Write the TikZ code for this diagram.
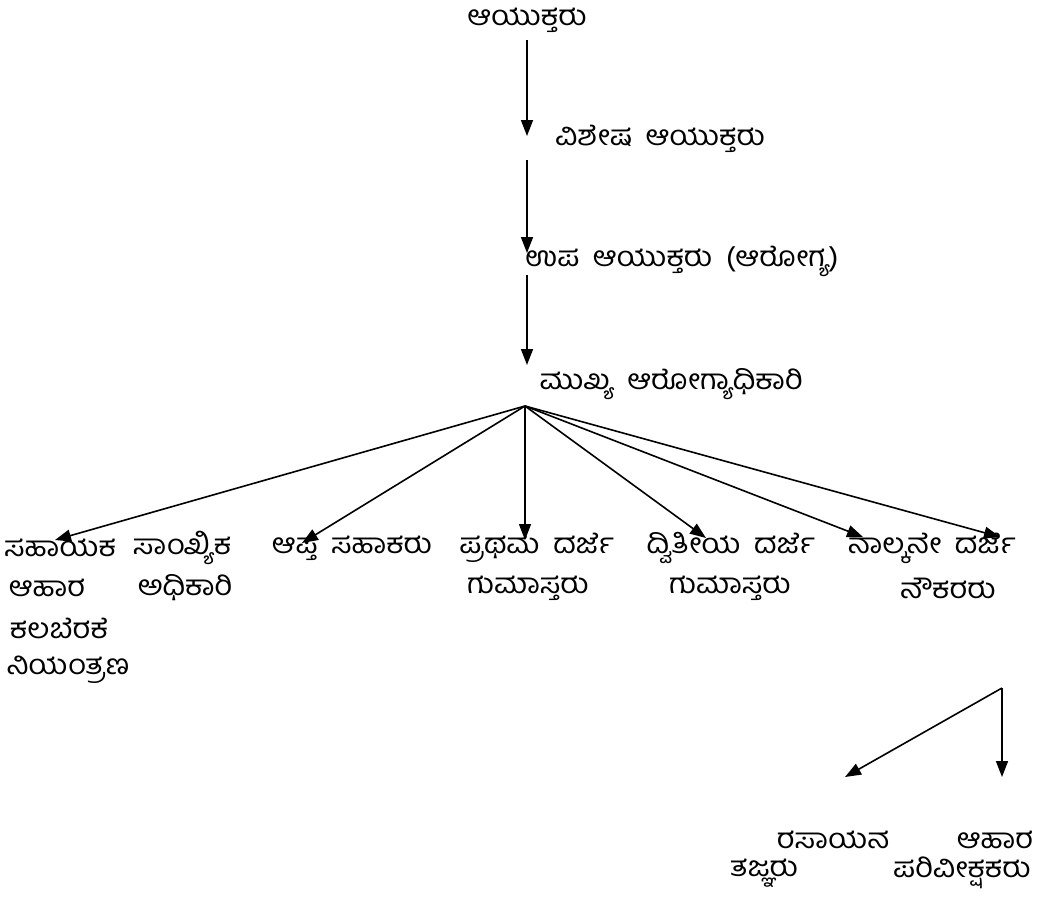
\documentclass[tikz,border=0pt]{standalone}
\usepackage{fontspec}
\usetikzlibrary{arrows.meta}
\newfontfamily\kanfont[Script=Kannada,FakeStretch=1.1,WordSpace=1.8]{Hind Mysuru}
\begin{document}
\begin{tikzpicture}[x=1pt,y=-1pt,
  lbl/.style={inner sep=0pt,font=\kanfont\fontsize{28}{32}\selectfont},
  arr/.style={line width=1.6pt,-{Triangle[length=16pt,width=12pt]}}]
\useasboundingbox (0,0) rectangle (1039,898);
% top chain
\node[lbl] (n1) at (527,20) {ಆಯುಕ್ತರು};
\node[lbl] (n2) at (660,139) {ವಿಶೇಷ ಆಯುಕ್ತರು};
\node[lbl] (n3) at (682,261) {ಉಪ ಆಯುಕ್ತರು (ಆರೋಗ್ಯ)};
\node[lbl] (n4) at (671,384) {ಮುಖ್ಯ ಆರೋಗ್ಯಾಧಿಕಾರಿ};
\coordinate (s1) at (527,40);  \coordinate (t1) at (527,136);
\coordinate (s2) at (527,160); \coordinate (t2) at (527,253);
\coordinate (s3) at (527,275); \coordinate (t3) at (527,365);
\draw[arr] (s1) -- (t1);
\draw[arr] (s2) -- (t2);
\draw[arr] (s3) -- (t3);
% hub
\coordinate (hub) at (525,406);
\coordinate (h1) at (55,540);
\coordinate (h2) at (302,543);
\coordinate (h3) at (525,540);
\coordinate (h4) at (706,538);
\coordinate (h5) at (863,537);
\coordinate (h6) at (1000,537);
\foreach \h in {h1,h2,h3,h4,h5,h6} \draw[arr] (hub) -- (\h);
% bottom rows
\node[lbl] (b1) at (60,548) {ಸಹಾಯಕ};
\node[lbl] (b2) at (182,548) {ಸಾಂಖ್ಯಿಕ};
\node[lbl] (b3) at (352,548) {ಆಪ್ತ ಸಹಾಕರು};
\node[lbl] (b4) at (537,548) {ಪ್ರಥಮ ದರ್ಜೆ};
\node[lbl] (b5) at (731,548) {ದ್ವಿತೀಯ ದರ್ಜೆ};
\node[lbl] (b6) at (932,548) {ನಾಲ್ಕನೇ ದರ್ಜೆ};
\node[lbl] (c1) at (47,588) {ಆಹಾರ};
\node[lbl] (c2) at (185,588) {ಅಧಿಕಾರಿ};
\node[lbl] (c4) at (528,588) {ಗುಮಾಸ್ತರು};
\node[lbl] (c5) at (730,588) {ಗುಮಾಸ್ತರು};
\node[lbl] (c6) at (948,588) {ನೌಕರರು};
\node[lbl] (d1) at (59,628) {ಕಲಬೆರಕೆ};
\node[lbl] (e1) at (68,670) {ನಿಯಂತ್ರಣ};
% bottom right
\coordinate (v0) at (1002,688);
\coordinate (v1) at (845,777);
\coordinate (v2) at (1002,777);
\draw[arr] (v0) -- (v1);
\draw[arr] (v0) -- (v2);
\node[lbl] (f1) at (833,840) {ರಸಾಯನ};
\node[lbl] (f2) at (995,840) {ಆಹಾರ};
\node[lbl] (g1) at (764,873) {ತಜ್ಞರು};
\node[lbl] (g2) at (962,873) {ಪರಿವೀಕ್ಷಕರು};
\end{tikzpicture}
\end{document}
